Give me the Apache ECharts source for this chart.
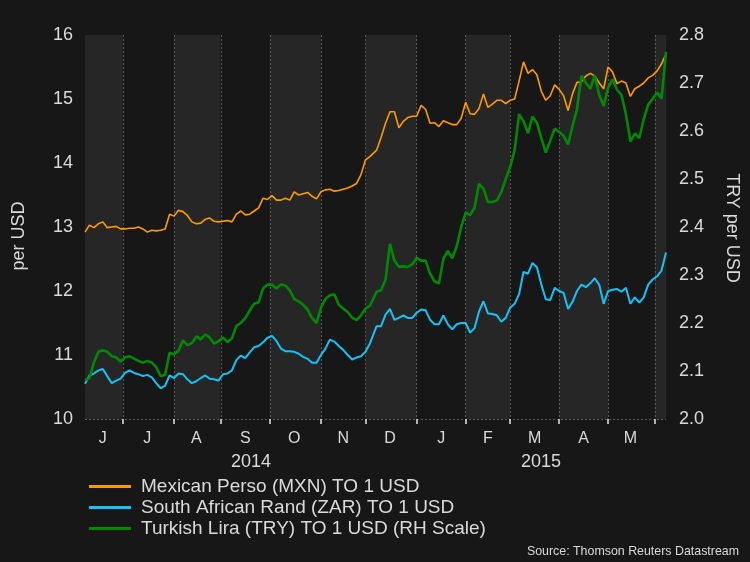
<!DOCTYPE html>
<html><head><meta charset="utf-8">
<script src="https://cdn.jsdelivr.net/npm/echarts@6/dist/echarts.min.js"></script>
<style>html,body{margin:0;padding:0;background:#171717;}#c{width:750px;height:562px;}</style>
</head><body><div id="c"></div>
<script>
// ---- data ----
const startDate = '2014-06-06';
const endDate = '2015-06-08';
const monthLabels = ['J','J','A','S','O','N','D','J','F','M','A','M'];
const yearLabels = ['2014','2015'];
const seriesNames = ['Mexican Perso (MXN) TO 1 USD','South African Rand (ZAR) TO 1 USD','Turkish Lira (TRY) TO 1 USD (RH Scale)'];
const sourceText = 'Source: Thomson Reuters Datastream';

// values sampled roughly every second trading day
const mxn = [
12.92,13.03,12.99,13.05,13.08,12.99,13.00,13.01,12.97,12.97,
12.98,12.98,13.00,12.97,12.92,12.95,12.94,12.95,12.97,13.20,
13.17,13.26,13.24,13.18,13.08,13.05,13.06,13.12,13.14,13.09,
13.08,13.09,13.10,13.08,13.20,13.25,13.19,13.20,13.25,13.30,
13.45,13.43,13.49,13.42,13.42,13.45,13.42,13.55,13.50,13.52,
13.54,13.48,13.44,13.55,13.58,13.59,13.56,13.57,13.59,13.61,
13.64,13.68,13.82,14.05,14.10,14.20,14.40,14.62,14.80,14.80,
14.55,14.65,14.71,14.73,14.73,14.90,14.84,14.62,14.63,14.57,
14.66,14.63,14.60,14.60,14.70,14.95,14.77,14.76,14.85,15.08,
14.87,14.92,14.98,14.98,14.93,14.98,15.00,15.28,15.58,15.40,
15.46,15.38,15.12,14.98,15.05,15.22,15.15,15.05,14.82,15.08,
15.26,15.27,15.36,15.40,15.36,15.25,15.16,15.50,15.42,15.24,
15.28,15.25,15.04,15.16,15.20,15.25,15.33,15.37,15.44,15.55,15.70];

const zar = [
10.55,10.68,10.71,10.76,10.78,10.67,10.56,10.60,10.63,10.72,
10.76,10.72,10.70,10.67,10.69,10.65,10.56,10.48,10.52,10.68,
10.64,10.71,10.70,10.62,10.56,10.59,10.64,10.68,10.63,10.62,
10.60,10.70,10.71,10.76,10.92,10.99,10.95,11.04,11.12,11.14,
11.20,11.27,11.30,11.22,11.10,11.06,11.06,11.05,11.02,10.97,
10.94,10.88,10.88,11.00,11.10,11.24,11.21,11.14,11.08,11.00,
10.93,10.96,10.98,11.05,11.18,11.45,11.45,11.63,11.72,11.55,
11.58,11.62,11.58,11.58,11.66,11.71,11.70,11.55,11.48,11.48,
11.62,11.48,11.40,11.48,11.50,11.50,11.35,11.42,11.68,11.84,
11.65,11.64,11.62,11.52,11.58,11.74,11.80,11.95,12.30,12.27,
12.44,12.37,12.10,11.87,11.86,12.05,12.00,11.97,11.72,11.83,
12.00,12.10,12.06,12.12,12.20,12.10,11.80,12.00,12.02,12.03,
11.99,12.05,11.80,11.90,11.82,11.90,12.10,12.18,12.23,12.32,12.60];

const tryl = [
2.081,2.085,2.118,2.140,2.143,2.140,2.131,2.128,2.120,2.128,
2.131,2.126,2.121,2.117,2.121,2.118,2.108,2.089,2.092,2.138,
2.135,2.142,2.164,2.154,2.158,2.172,2.166,2.176,2.170,2.157,
2.162,2.170,2.160,2.168,2.194,2.200,2.210,2.226,2.240,2.243,
2.272,2.280,2.280,2.272,2.280,2.278,2.268,2.250,2.245,2.238,
2.228,2.210,2.200,2.232,2.250,2.258,2.260,2.238,2.230,2.223,
2.211,2.206,2.216,2.230,2.236,2.265,2.268,2.290,2.365,2.330,
2.317,2.318,2.317,2.322,2.336,2.330,2.330,2.303,2.287,2.282,
2.334,2.350,2.335,2.360,2.400,2.430,2.425,2.440,2.490,2.480,
2.452,2.452,2.455,2.472,2.500,2.525,2.560,2.635,2.620,2.595,
2.630,2.617,2.585,2.555,2.580,2.605,2.598,2.590,2.572,2.610,
2.645,2.715,2.700,2.688,2.716,2.675,2.652,2.690,2.708,2.686,
2.675,2.635,2.578,2.595,2.585,2.625,2.655,2.667,2.680,2.668,2.765];

// ---- axis structure: trading days ----
const days = [];
for (let t = Date.parse(startDate); t <= Date.parse(endDate); t += 86400000) {
  const d = new Date(t), wd = d.getUTCDay();
  if (wd !== 0 && wd !== 6) days.push(d.toISOString().slice(0, 10));
}
const lastIdx = days.length - 1;
const groups = [];
days.forEach((d, i) => {
  const m = d.slice(0, 7);
  if (!groups.length || groups[groups.length - 1].m !== m) groups.push({ m: m, s: i });
});
const monthStart = new Set(groups.slice(1).map(g => g.s));
const labelAt = {};
groups.forEach((g, gi) => {
  if (gi < monthLabels.length) {
    const a = gi === 0 ? 0 : g.s;
    const b = gi + 1 < groups.length ? groups[gi + 1].s : lastIdx;
    labelAt[Math.floor((a + b) / 2)] = monthLabels[gi];
  }
});
const nS = mxn.length - 1;
const toPairs = arr => arr.map((v, k) => [Math.round(k * lastIdx / nS), v]);

const FONT = 'Liberation Sans, Arial, Helvetica, sans-serif';
const TXT = '#dadada';
const GRIDC = '#5a5a5a';

const chart = echarts.init(document.getElementById('c'), null, { renderer: 'canvas' });
chart.setOption({
  backgroundColor: '#171717',
  animation: false,
  textStyle: { fontFamily: FONT },
  grid: { left: 85, right: 84, top: 35, bottom: 143 },
  legend: {
    orient: 'vertical', left: 84, top: 472, icon: 'rect',
    itemWidth: 42, itemHeight: 3, itemGap: 2,
    textStyle: { color: TXT, fontSize: 19, fontFamily: FONT, padding: [0, 0, 0, 5] },
    data: seriesNames
  },
  xAxis: {
    type: 'category', data: days, boundaryGap: false,
    axisLine: { show: false },
    axisTick: { show: true, length: 5, interval: i => monthStart.has(i), lineStyle: { color: '#e8e8e8', width: 1.5 } },
    axisLabel: { interval: i => labelAt[i] !== undefined, formatter: (v, i) => labelAt[i] || '', color: TXT, fontSize: 16, margin: 12 },
    splitLine: { show: true, interval: i => monthStart.has(i), lineStyle: { color: GRIDC, type: [2, 2], width: 1 } },
    splitArea: { show: true, interval: i => i === 0 || i === lastIdx || monthStart.has(i), areaStyle: { color: ['#262626', '#171717'] } }
  },
  yAxis: [
    { type: 'value', min: 10, max: 16, interval: 1, position: 'left',
      axisLine: { show: false }, axisTick: { show: false },
      axisLabel: { color: TXT, fontSize: 18, margin: 12 },
      splitLine: { show: true, lineStyle: { color: GRIDC, type: [2, 2], width: 1 } } },
    { type: 'value', min: 2.0, max: 2.8, interval: 0.1, position: 'right',
      axisLine: { show: false }, axisTick: { show: false },
      axisLabel: { color: TXT, fontSize: 18, margin: 13, formatter: v => v.toFixed(1) },
      splitLine: { show: false } }
  ],
  series: [
    { name: seriesNames[0], type: 'line', yAxisIndex: 0, data: toPairs(mxn), symbol: 'none',
      lineStyle: { color: '#ff9a00', width: 1.6 }, itemStyle: { color: '#ff9a00' } },
    { name: seriesNames[1], type: 'line', yAxisIndex: 0, data: toPairs(zar), symbol: 'none',
      lineStyle: { color: '#14c3f5', width: 2 }, itemStyle: { color: '#14c3f5' } },
    { name: seriesNames[2], type: 'line', yAxisIndex: 1, data: toPairs(tryl), symbol: 'none',
      lineStyle: { color: '#008a00', width: 2.6 }, itemStyle: { color: '#008a00' } }
  ],
  graphic: [
    { type: 'text', x: 19, y: 236, rotation: Math.PI / 2,
      style: { text: 'per USD', fill: TXT, font: '18px ' + FONT, textAlign: 'center', textVerticalAlign: 'middle', align: 'center', verticalAlign: 'middle' } },
    { type: 'text', x: 732, y: 228, rotation: -Math.PI / 2,
      style: { text: 'TRY per USD', fill: TXT, font: '18px ' + FONT, textAlign: 'center', textVerticalAlign: 'middle', align: 'center', verticalAlign: 'middle' } },
    { type: 'text', x: 251, y: 462,
      style: { text: yearLabels[0], fill: TXT, font: '18px ' + FONT, textAlign: 'center', textVerticalAlign: 'middle', align: 'center', verticalAlign: 'middle' } },
    { type: 'text', x: 541, y: 462,
      style: { text: yearLabels[1], fill: TXT, font: '18px ' + FONT, textAlign: 'center', textVerticalAlign: 'middle', align: 'center', verticalAlign: 'middle' } },
    { type: 'text', x: 739, y: 552,
      style: { text: sourceText, fill: TXT, font: '12.4px ' + FONT, textAlign: 'right', textVerticalAlign: 'middle', align: 'right', verticalAlign: 'middle' } }
  ]
});
</script>
</body></html>
